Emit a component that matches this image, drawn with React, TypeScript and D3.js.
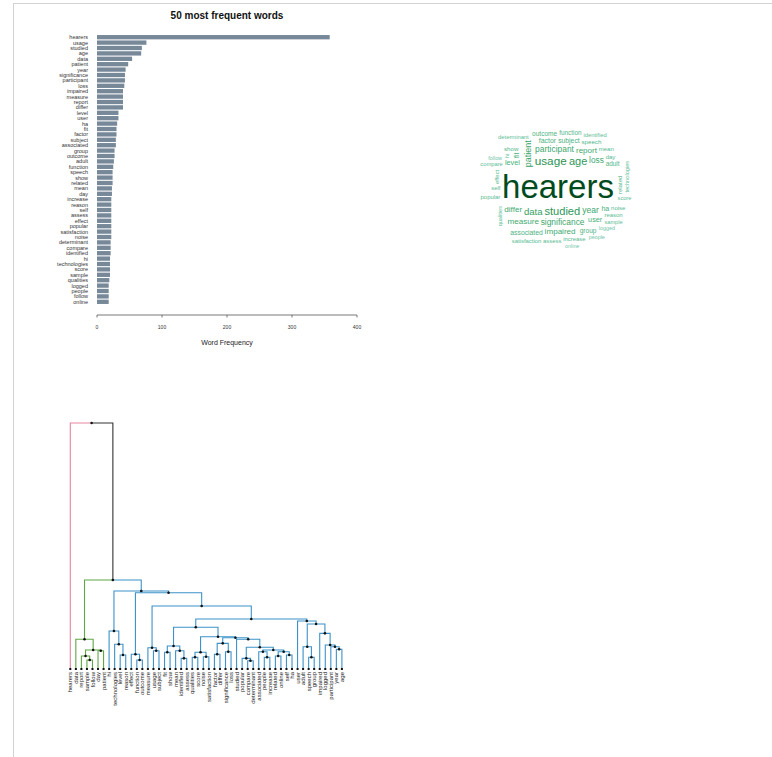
import React, { useMemo } from "react";
import * as d3 from "d3";

// ---------------- Bar chart data ----------------
const words: string[] = [
  "hearers", "usage", "studied", "age", "data", "patient", "year", "significance", "participant", "loss",
  "impaired", "measure", "report", "differ", "level", "user", "ha", "fit", "factor", "subject",
  "associated", "group", "outcome", "adult", "function", "speech", "show", "related", "mean", "day",
  "increase", "reason", "self", "assess", "effect", "popular", "satisfaction", "noise", "determinant", "compare",
  "identified", "hi", "technologies", "score", "sample", "qualities", "logged", "people", "follow", "online",
];
const freqs: number[] = [
  358, 76, 69, 68, 54, 48, 44, 43, 43, 42,
  40, 40, 40, 40, 33, 33, 31, 30, 30, 29,
  29, 27, 27, 26, 25, 24, 24, 24, 23, 23,
  22, 22, 22, 22, 22, 22, 22, 22, 21, 21,
  21, 20, 20, 20, 20, 19, 18, 18, 18, 18,
];
const xTicks: number[] = [0, 100, 200, 300, 400];
const barTitle = "50 most frequent words";
const xAxisTitle = "Word Frequency";

// ---------------- Word cloud ----------------
const cloudRotated: string[] = ["technologies", "patient", "related", "fit", "effect", "qualities", "hi"];

// ---------------- Dendrogram ----------------
const dendroLeaves: string[] = [
  "hearers", "data", "report", "sample", "follow", "day", "patient", "hi", "technologies", "level",
  "reason", "effect", "function", "outcome", "measure", "usage", "subject", "fit", "show", "mean",
  "identified", "assess", "qualities", "score", "noise", "satisfaction", "factor", "differ", "significance", "loss",
  "studied", "popular", "compare", "determinant", "associated", "people", "increase", "related", "online", "self",
  "ha", "user", "adult", "speech", "group", "impaired", "logged", "participant", "year", "age",
];
// [left, right, height]: strings are leaves, numbers refer to earlier merges
const dendroMerges: [string | number, string | number, number][] = [
  ["sample", "follow", 1.1], // 0
  ["report", 0, 1.59], // 1
  ["day", "patient", 2.23], // 2
  [1, 2, 2.32], // 3
  ["data", 3, 3.62], // 4
  ["level", "reason", 1.71], // 5
  ["technologies", 5, 3.01], // 6
  ["hi", 6, 4.63], // 7
  ["function", "outcome", 1.1], // 8
  ["effect", 8, 1.79], // 9
  ["usage", "subject", 2.23], // 10
  ["measure", 10, 2.6], // 11
  ["fit", "show", 2.04], // 12
  ["identified", "assess", 1.3], // 13
  ["mean", 13, 2.23], // 14
  [12, 14, 2.8], // 15
  ["qualities", "score", 1.43], // 16
  ["noise", "satisfaction", 1.5], // 17
  [16, 17, 2.04], // 18
  ["factor", "differ", 1.79], // 19
  ["significance", "loss", 2.11], // 20
  [19, 20, 3.13], // 21
  ["compare", "determinant", 1.01], // 22
  ["popular", 22, 1.3], // 23
  ["people", "increase", 1.43], // 24
  ["associated", 24, 2.11], // 25
  ["related", "online", 1.59], // 26
  ["self", "ha", 1.71], // 27
  [26, 27, 2.11], // 28
  [25, 28, 2.32], // 29
  [23, 29, 2.65], // 30
  ["studied", 30, 3.62], // 31
  [21, 31, 3.82], // 32
  [18, 32, 3.94], // 33
  [15, 33, 5.09], // 34
  ["speech", "group", 1.43], // 35
  ["adult", 35, 2.72], // 36
  ["year", "age", 2.4], // 37
  ["participant", 37, 2.72], // 38
  ["logged", 38, 2.93], // 39
  ["impaired", 39, 4.35], // 40
  [36, 40, 5.49], // 41
  ["user", 41, 5.85], // 42
  [34, 42, 6.1], // 43
  [11, 43, 7.68], // 44
  [9, 44, 9.3], // 45
  [7, 45, 9.51], // 46
  [4, 46, 10.85], // 47
  ["hearers", 47, 30.0], // 48
];
const clusterColors: string[] = ["#e7849f", "#5fa843", "#3d92c9"];
const aboveColor = "#333333";
const colorThreshold = 10;

const FONT = '"Liberation Sans", Arial, Helvetica, sans-serif';

type TNode = { name?: string; height: number; children?: TNode[] };

type Placed = { text: string; x: number; y: number; size: number; rot: boolean; color: string };
type Box = { x0: number; y0: number; x1: number; y1: number };

function layoutCloud(): Placed[] {
  const canvas = document.createElement("canvas");
  const ctx = canvas.getContext("2d");
  if (!ctx) return [];
  const cx = 558, cy = 186;
  const mx = 1.6, my = 0.1;
  const sizeScale = d3.scalePow().exponent(0.75).domain([18, 358]).range([5.4, 33]);
  const colorT = (s: number) => 0.48 + 0.5 * Math.sqrt(Math.max(0, (s - 5.4) / 27.6));
  const order = words.map((w, i) => ({ text: w, freq: freqs[i] })).sort((a, b) => b.freq - a.freq);
  const boxes: Box[] = [];
  const out: Placed[] = [];
  for (const w of order) {
    const size = sizeScale(w.freq);
    const rot = cloudRotated.includes(w.text);
    ctx.font = `${size}px ${FONT}`;
    const m = ctx.measureText(w.text);
    const asc = m.fontBoundingBoxAscent;
    const desc = m.fontBoundingBoxDescent;
    const right = m.width;
    const rel: Box = rot
      ? { x0: -asc, y0: -right, x1: desc, y1: 0 }
      : { x0: 0, y0: -asc, x1: right, y1: desc };
    const ocx = (rel.x0 + rel.x1) / 2, ocy = (rel.y0 + rel.y1) / 2;
    let t = 0;
    let found: [number, number] | null = null;
    while (t < 800) {
      const r = 0.3 * t;
      const sx = cx + 1.2 * r * Math.cos(t), sy = cy + r * Math.sin(t);
      const ax = sx - ocx, ay = sy - ocy;
      const b: Box = { x0: ax + rel.x0, y0: ay + rel.y0, x1: ax + rel.x1, y1: ay + rel.y1 };
      let ok = true;
      for (const o of boxes) {
        if (b.x0 < o.x1 + mx && b.x1 + mx > o.x0 && b.y0 < o.y1 + my && b.y1 + my > o.y0) {
          ok = false;
          break;
        }
      }
      if (ok) {
        found = [ax, ay];
        boxes.push(b);
        break;
      }
      t += Math.min(0.1, 0.6 / Math.max(r, 1));
    }
    if (found) {
      out.push({ text: w.text, x: found[0], y: found[1], size, rot, color: d3.interpolateBuGn(colorT(size)) });
    }
  }
  return out;
}

export default function App() {
  // Bar chart scales
  const x = d3.scaleLinear().domain([0, 400]).range([97, 357]);
  const y = d3.scaleBand<string>().domain(words).range([34.5, 304.5]).paddingInner(0.2).paddingOuter(0.1);
  const axisY = 315;

  // Dendrogram
  const dendro = useMemo(() => {
    const nodes: TNode[] = [];
    const toNode = (v: string | number): TNode => (typeof v === "string" ? { name: v, height: 0 } : nodes[v]);
    dendroMerges.forEach(([a, b, h]) => nodes.push({ height: h, children: [toNode(a), toNode(b)] }));
    const root = d3.hierarchy<TNode>(nodes[nodes.length - 1]);
    const xl = d3.scalePoint<string>().domain(dendroLeaves).range([70.3, 341.9]);
    const yl = d3.scaleLinear().domain([0, 30]).range([669, 423]);
    const pos = new Map<any, { x: number; y: number; color: string }>();
    root.eachAfter((n) => {
      const px = n.children ? d3.mean(n.children, (c) => pos.get(c)!.x)! : xl(n.data.name!)!;
      pos.set(n, { x: px, y: yl(n.data.height), color: aboveColor });
    });
    let ci = 0;
    root.eachBefore((n) => {
      const p = pos.get(n)!;
      if (n.data.height >= colorThreshold) p.color = aboveColor;
      else if (!n.parent || n.parent.data.height >= colorThreshold) p.color = clusterColors[ci++ % clusterColors.length];
      else p.color = pos.get(n.parent)!.color;
    });
    const links: { d: string; color: string }[] = [];
    const dots: { x: number; y: number }[] = [];
    const leaves: { x: number; y: number; name: string }[] = [];
    root.each((n) => {
      const p = pos.get(n)!;
      if (n.children) {
        dots.push({ x: p.x, y: p.y });
        n.children.forEach((c) => {
          const q = pos.get(c)!;
          links.push({ d: `M${q.x},${q.y}V${p.y}H${p.x}`, color: q.color });
        });
      } else {
        leaves.push({ x: p.x, y: p.y, name: n.data.name! });
      }
    });
    return { links, dots, leaves };
  }, []);

  const cloud = useMemo(() => layoutCloud(), []);

  return (
    <svg
      width={772}
      height={757}
      style={{ position: "absolute", left: 0, top: 0, background: "#fff" }}
      fontFamily={FONT}
    >
      {/* frame */}
      <line x1={13} x2={772} y1={3.5} y2={3.5} stroke="#d2d2d2" strokeWidth={1} />
      <line x1={13.5} x2={13.5} y1={3} y2={757} stroke="#d2d2d2" strokeWidth={1} />

      {/* Bar chart */}
      <text x={227} y={18.5} textAnchor="middle" fontSize={10} fontWeight="bold" fill="#111">
        {barTitle}
      </text>
      {words.map((w, i) => (
        <g key={w}>
          <rect x={x(0)} y={y(w)!} width={x(freqs[i]) - x(0)} height={y.bandwidth()} fill="#778899" />
          <text x={88} y={y(w)! + y.bandwidth() / 2} dy="0.35em" textAnchor="end" fontSize={5.5} fill="#333">
            {w}
          </text>
        </g>
      ))}
      <line x1={x(0)} x2={x(400)} y1={axisY} y2={axisY} stroke="#555" strokeWidth={0.8} />
      {xTicks.map((t) => (
        <g key={t}>
          <line x1={x(t)} x2={x(t)} y1={axisY} y2={axisY + 2.5} stroke="#555" strokeWidth={0.8} />
          <text x={x(t)} y={axisY + 14} textAnchor="middle" fontSize={5} fill="#333">
            {t}
          </text>
        </g>
      ))}
      <text x={227} y={345} textAnchor="middle" fontSize={7} fill="#222">
        {xAxisTitle}
      </text>

      {/* Word cloud */}
      {cloud.map((c) => (
        <text
          key={c.text}
          x={c.x}
          y={c.y}
          fontSize={c.size}
          fill={c.color}
          transform={c.rot ? `rotate(-90 ${c.x} ${c.y})` : undefined}
        >
          {c.text}
        </text>
      ))}

      {/* Dendrogram */}
      {dendro.links.map((l, i) => (
        <path key={i} d={l.d} fill="none" stroke={l.color} strokeWidth={1.1} />
      ))}
      {dendro.dots.map((d, i) => (
        <circle key={i} cx={d.x} cy={d.y} r={1.3} fill="#111" />
      ))}
      {dendro.leaves.map((l) => (
        <g key={l.name}>
          <rect x={l.x - 1} y={l.y - 1} width={2} height={2} fill="#111" />
          <text
            x={0}
            y={0}
            transform={`translate(${l.x},672) rotate(-90)`}
            textAnchor="end"
            dy="0.35em"
            fontSize={6}
            fill="#222"
          >
            {l.name}
          </text>
        </g>
      ))}
    </svg>
  );
}
